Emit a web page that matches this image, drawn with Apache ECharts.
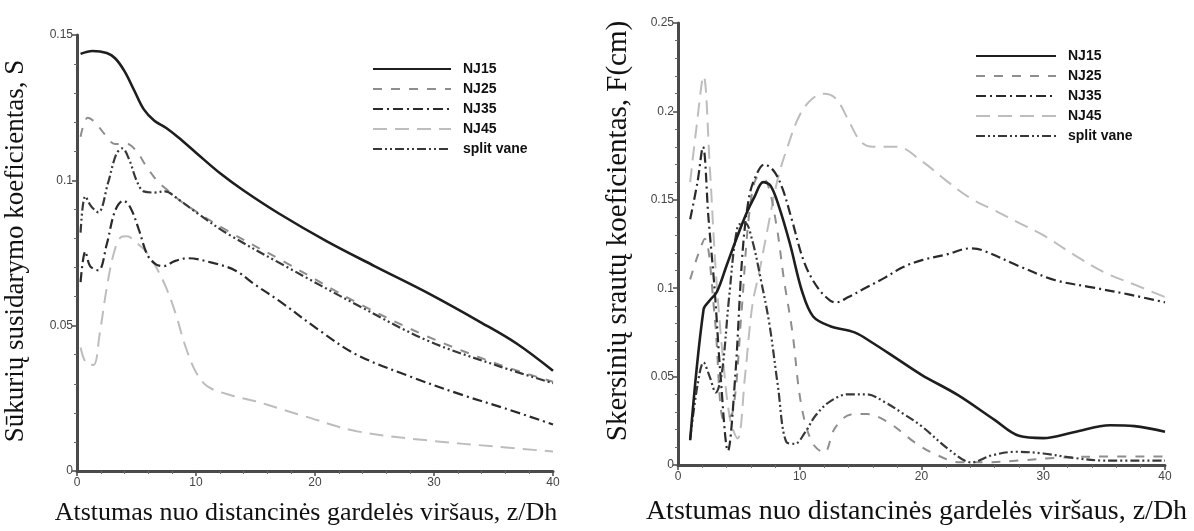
<!DOCTYPE html>
<html>
<head>
<meta charset="utf-8">
<script src="https://cdn.jsdelivr.net/npm/echarts@6/dist/echarts.min.js"></script>
<style>
html,body{margin:0;padding:0;background:#fff;}
#chart{width:1194px;height:531px;}
</style>
</head>
<body>
<div id="chart"></div>
<script>
// ---------- Data ----------
const seriesNames = ['NJ15', 'NJ25', 'NJ35', 'NJ45', 'split vane'];

// Left chart: Sūkurių susidarymo koeficientas, S
const L_NJ15_x = [0.3, 1.3, 2.5, 3.2, 4, 4.8, 5.6, 6.5, 7.5, 8.5, 10, 12, 14, 17, 21, 25, 29.5, 34, 37, 40];
const L_NJ15_y = [0.1435, 0.1445, 0.1438, 0.142, 0.1375, 0.131, 0.1245, 0.1205, 0.118, 0.1148, 0.1095, 0.1025, 0.0965, 0.0885, 0.079, 0.0705, 0.0612, 0.051, 0.0437, 0.0345];

const L_NJ25_x = [0.3, 0.9, 1.5, 2.3, 3.2, 4.2, 5, 5.8, 6.7, 7.5, 9, 12.7, 17.5, 23.5, 29.5, 35.5, 40];
const L_NJ25_y = [0.115, 0.1215, 0.120, 0.116, 0.1125, 0.1125, 0.110, 0.105, 0.100, 0.097, 0.092, 0.0825, 0.0718, 0.058, 0.0462, 0.0366, 0.0307];

const L_NJ35_x = [0.3, 0.7, 1.1, 1.8, 2.5, 3.2, 3.9, 4.5, 5.2, 5.9, 6.6, 7.3, 8.2, 9.3, 11.5, 13.3, 15, 17, 20.5, 23.5, 28, 32.5, 36, 40];
const L_NJ35_y = [0.065, 0.0755, 0.0705, 0.069, 0.078, 0.0895, 0.093, 0.0905, 0.083, 0.0745, 0.0712, 0.0705, 0.0722, 0.0732, 0.0715, 0.069, 0.064, 0.0585, 0.048, 0.040, 0.0325, 0.026, 0.0215, 0.016];

const L_NJ45_x = [0.3, 0.8, 1.4, 1.9, 2.5, 3.1, 3.7, 4.2, 5, 5.8, 6.6, 7.5, 8.3, 9.1, 10, 11, 13, 15, 17, 19, 23.5, 29.5, 35.5, 40];
const L_NJ45_y = [0.0425, 0.037, 0.0365, 0.047, 0.063, 0.075, 0.0805, 0.0808, 0.0785, 0.0755, 0.0705, 0.063, 0.054, 0.043, 0.034, 0.029, 0.026, 0.024, 0.0215, 0.019, 0.0137, 0.0105, 0.0083, 0.0067];

const L_SV_x = [0.3, 0.7, 1.2, 1.8, 2.6, 3.3, 3.8, 4.4, 5, 5.6, 6.5, 7.4, 8.5, 10, 12.7, 17.5, 23.5, 29.5, 35.5, 40];
const L_SV_y = [0.082, 0.0945, 0.091, 0.089, 0.099, 0.109, 0.111, 0.107, 0.100, 0.0962, 0.0958, 0.0962, 0.0935, 0.089, 0.0815, 0.0705, 0.0572, 0.0448, 0.036, 0.0302];

// Right chart: Skersinių srautų koeficientas, F(cm)
const R_NJ15_x = [1, 2.1, 2.6, 3.2, 4, 4.8, 5.6, 6.3, 7, 7.6, 8.3, 9.2, 10.2, 11.1, 12.5, 14.5, 16, 18, 20, 23, 26, 28, 30, 32.5, 35.5, 37.5, 40];
const R_NJ15_y = [0.014, 0.088, 0.093, 0.098, 0.113, 0.128, 0.142, 0.152, 0.16, 0.158, 0.146, 0.125, 0.098, 0.084, 0.0785, 0.075, 0.069, 0.060, 0.051, 0.0395, 0.0255, 0.0165, 0.0152, 0.0185, 0.0225, 0.022, 0.0188];

const R_NJ25_x = [1, 1.6, 2.2, 3, 3.8, 4.5, 5.2, 5.9, 6.6, 7.3, 8.1, 8.7, 9.4, 10.1, 11, 12, 12.9, 14.2, 15.5, 17.3, 19.5, 21, 23.2, 25, 28, 31, 35, 40];
const R_NJ25_y = [0.105, 0.118, 0.128, 0.085, 0.025, 0.03, 0.085, 0.145, 0.163, 0.16, 0.135, 0.105, 0.075, 0.035, 0.013, 0.007, 0.021, 0.0285, 0.0288, 0.024, 0.0125, 0.0065, 0.0015, 0.0015, 0.0025, 0.004, 0.0048, 0.0048];

const R_NJ35_x = [1, 1.6, 2.05, 2.5, 3, 3.5, 4.1, 4.7, 5.3, 5.8, 6.3, 7.1, 7.9, 8.6, 9.3, 10.4, 11.5, 12.5, 13, 14, 15.5, 17, 18.5, 20.1, 22, 24, 25, 28, 31, 34, 37, 40];
const R_NJ35_y = [0.139, 0.16, 0.18, 0.14, 0.10, 0.05, 0.008, 0.05, 0.12, 0.15, 0.162, 0.17, 0.166, 0.156, 0.14, 0.114, 0.1, 0.093, 0.092, 0.095, 0.1005, 0.106, 0.112, 0.116, 0.119, 0.1225, 0.1215, 0.1125, 0.1045, 0.1005, 0.0965, 0.092];

const R_NJ45_x = [1, 1.5, 2.1, 2.6, 3.1, 3.7, 4.3, 4.9, 5.5, 6.1, 6.7, 7.4, 8.2, 9, 10, 11, 12, 13, 14, 15, 16, 18, 20, 22, 24, 26, 28, 30, 32.5, 35, 37.5, 40];
const R_NJ45_y = [0.16, 0.19, 0.22, 0.17, 0.11, 0.06, 0.025, 0.015, 0.05, 0.09, 0.11, 0.135, 0.162, 0.18, 0.198, 0.207, 0.21, 0.207, 0.195, 0.183, 0.18, 0.18, 0.172, 0.161, 0.151, 0.144, 0.137, 0.13, 0.119, 0.109, 0.102, 0.095];

const R_SV_x = [1, 1.6, 2.1, 2.6, 3.1, 3.6, 4.2, 4.9, 5.5, 6.1, 6.8, 7.5, 8.2, 8.9, 9.6, 10.4, 11.3, 12.5, 14, 15.5, 17, 18.5, 20, 22.3, 24.1, 25.8, 27.8, 30, 32.5, 35, 40];
const R_SV_y = [0.015, 0.045, 0.058, 0.05, 0.041, 0.052, 0.095, 0.135, 0.137, 0.127, 0.105, 0.08, 0.045, 0.013, 0.012, 0.018, 0.028, 0.036, 0.040, 0.040, 0.0355, 0.029, 0.022, 0.0085, 0.0015, 0.0055, 0.0075, 0.0065, 0.004, 0.0025, 0.0025];

const leftYTitle = 'Sūkurių susidarymo koeficientas, S';
const rightYTitle = 'Skersinių srautų koeficientas, F(cm)';
const xTitle = 'Atstumas nuo distancinės gardelės viršaus, z/Dh';

// ---------- Styles ----------
const styles = {
  'NJ15': {color: '#1e1e1e', width: 2.6, type: 'solid'},
  'NJ25': {color: '#8e8e8e', width: 2, type: [9, 9]},
  'NJ35': {color: '#2a2a2a', width: 2.2, type: [10, 4, 2, 4]},
  'NJ45': {color: '#bdbdbd', width: 2, type: [14, 8]},
  'split vane': {color: '#383838', width: 2.2, type: [9, 3, 2, 3, 2, 3]}
};

function pairs(xs, ys) { return xs.map((x, i) => [x, ys[i]]); }

function mk(name, xs, ys, idx) {
  const s = styles[name];
  return {
    name: name, type: 'line', xAxisIndex: idx, yAxisIndex: idx,
    data: pairs(xs, ys), symbol: 'none', smooth: 0.35,
    lineStyle: {color: s.color, width: s.width, type: s.type},
    itemStyle: {color: s.color},
    z: name === 'NJ15' ? 5 : 3
  };
}

const leftSeries = [
  mk('NJ45', L_NJ45_x, L_NJ45_y, 0),
  mk('NJ25', L_NJ25_x, L_NJ25_y, 0),
  mk('NJ35', L_NJ35_x, L_NJ35_y, 0),
  mk('split vane', L_SV_x, L_SV_y, 0),
  mk('NJ15', L_NJ15_x, L_NJ15_y, 0)
];
const rightSeries = [
  mk('NJ45', R_NJ45_x, R_NJ45_y, 1),
  mk('NJ25', R_NJ25_x, R_NJ25_y, 1),
  mk('NJ35', R_NJ35_x, R_NJ35_y, 1),
  mk('split vane', R_SV_x, R_SV_y, 1),
  mk('NJ15', R_NJ15_x, R_NJ15_y, 1)
];

const axisLine = {show: true, onZero: false, lineStyle: {color: '#4a4a4a', width: 3}};
const axisTick = {show: true, inside: false, length: 5, lineStyle: {color: '#4a4a4a', width: 1.5}};
const minorTick = {show: true, splitNumber: 5, length: 3, lineStyle: {color: '#6a6a6a', width: 1}};
const axisLabel = {color: '#444', fontFamily: 'Liberation Sans, Arial', fontSize: 12, margin: 4};
function nameText(size, pad) {
  return {color: '#111', fontFamily: 'Liberation Serif, Times New Roman, serif', fontSize: size, padding: pad};
}

function xAx(gi, size, gap, pad) {
  return {
    type: 'value', gridIndex: gi, min: 0, max: 40, interval: 10,
    axisLine: axisLine, axisTick: axisTick, minorTick: minorTick,
    axisLabel: Object.assign({}, axisLabel, {margin: 6}),
    splitLine: {show: false}, minorSplitLine: {show: false},
    name: xTitle, nameLocation: 'middle', nameGap: gap, nameTextStyle: nameText(size, pad)
  };
}
function yAx(gi, max, title, size, gap, pad) {
  return {
    type: 'value', gridIndex: gi, min: 0, max: max, interval: 0.05,
    axisLine: axisLine, axisTick: axisTick, minorTick: minorTick,
    axisLabel: axisLabel,
    splitLine: {show: false}, minorSplitLine: {show: false},
    name: title, nameLocation: 'middle', nameGap: gap, nameTextStyle: nameText(size, pad)
  };
}

const legendText = {color: '#111', fontFamily: 'Liberation Sans, Arial', fontWeight: 'bold', fontSize: 14, padding: [0, 0, 0, 7]};

const option = {
  backgroundColor: '#fff',
  animation: false,
  grid: [
    {left: 77, right: 641, top: 35, bottom: 60},
    {left: 678, right: 29, top: 23, bottom: 65}
  ],
  xAxis: [xAx(0, 26, 29, [0, 18, 0, 0]), xAx(1, 28, 33, [0, 10, 0, 0])],
  yAxis: [yAx(0, 0.15, leftYTitle, 27, 48, [0, 0, 0, 4]), yAx(1, 0.25, rightYTitle, 29, 45, [0, 0, 0, 26])],
  legend: [
    {orient: 'vertical', left: 372, top: 62, padding: 0, itemWidth: 78, itemHeight: 14, itemGap: 6,
     data: seriesNames, textStyle: legendText, selectedMode: false, itemStyle: {opacity: 0}},
    {orient: 'vertical', left: 975, top: 49, padding: 0, itemWidth: 80, itemHeight: 14, itemGap: 6,
     data: seriesNames, textStyle: legendText, selectedMode: false, itemStyle: {opacity: 0}}
  ],
  series: leftSeries.concat(rightSeries)
};

const chart = echarts.init(document.getElementById('chart'), null, {renderer: 'canvas'});
chart.setOption(option);
</script>
</body>
</html>
